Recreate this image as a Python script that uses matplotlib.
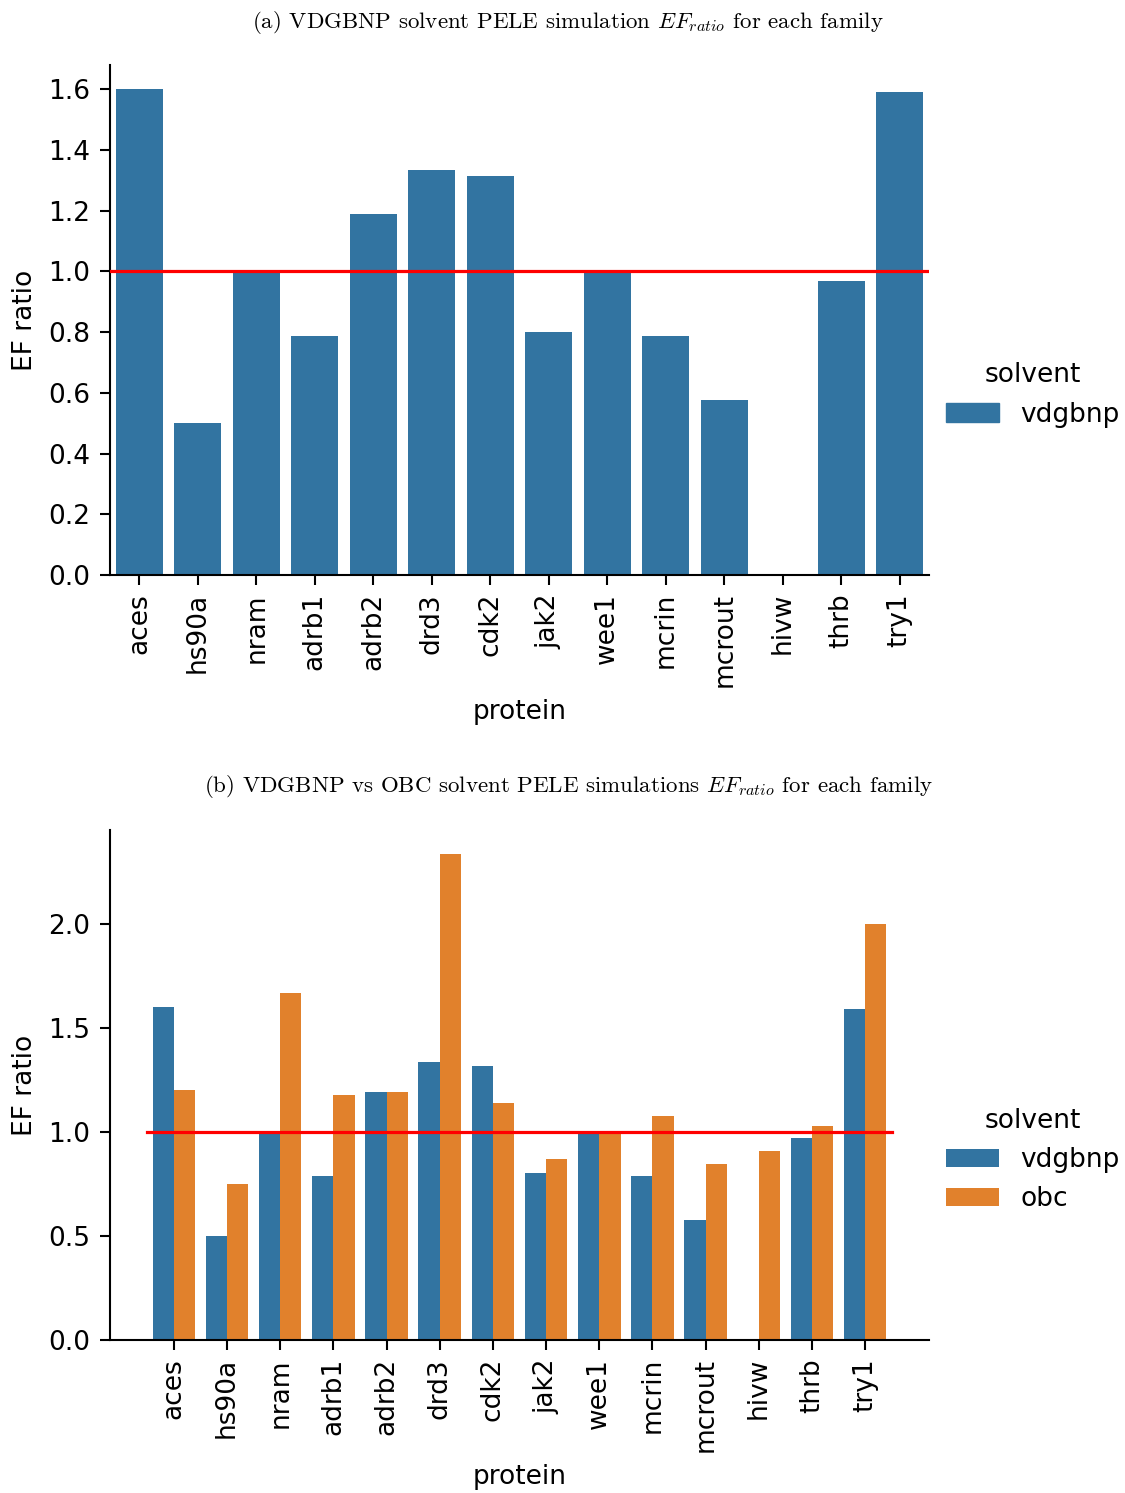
import numpy as np
import matplotlib
matplotlib.use("Agg")
import matplotlib.pyplot as plt
from matplotlib.patches import Patch

proteins = ['aces', 'hs90a', 'nram', 'adrb1', 'adrb2', 'drd3', 'cdk2',
            'jak2', 'wee1', 'mcrin', 'mcrout', 'hivw', 'thrb', 'try1']

# EF ratio per protein family for each implicit solvent
ef_vdgbnp = [1.60, 0.50, 1.00, 0.787, 1.19, 1.333, 1.316,
             0.80, 1.00, 0.787, 0.578, 0.0, 0.97, 1.59]
ef_obc = [1.20, 0.75, 1.667, 1.176, 1.19, 2.333, 1.14,
          0.867, 1.00, 1.075, 0.843, 0.906, 1.026, 2.00]

solvents = ['vdgbnp', 'obc']
colors = {'vdgbnp': '#3274a1', 'obc': '#e1812c'}

captions = [
    r'(a) VDGBNP solvent PELE simulation $EF_{ratio}$ for each family',
    r'(b) VDGBNP vs OBC solvent PELE simulations $EF_{ratio}$ for each family',
]

plt.rcParams['mathtext.fontset'] = 'cm'
plt.rcParams['axes.linewidth'] = 1.5
plt.rcParams['xtick.major.width'] = 1.5
plt.rcParams['ytick.major.width'] = 1.5
plt.rcParams['xtick.major.size'] = 7
plt.rcParams['ytick.major.size'] = 7
plt.rcParams['xtick.major.pad'] = 6
plt.rcParams['ytick.major.pad'] = 7

fs = 19
W, H = 1125, 1493
fig = plt.figure(figsize=(W / 100, H / 100), dpi=100)

def px_axes(left, top, right, bottom):
    return fig.add_axes([left / W, 1 - bottom / H, (right - left) / W, (bottom - top) / H])

x = np.arange(len(proteins))

# --- (a) vdgbnp only ---
ax1 = px_axes(110, 65, 929, 575)
ax1.bar(x, ef_vdgbnp, width=0.8, color=colors['vdgbnp'], linewidth=0)
ax1.axhline(1.0, color='red', linewidth=2.3, zorder=3)
ax1.set_xlim(-0.5, len(proteins) - 0.5)
ax1.set_ylim(0, max(ef_vdgbnp) * 1.05)
ax1.set_yticks(np.arange(0, 1.61, 0.2))
ax1.set_yticklabels([f'{v:.1f}' for v in np.arange(0, 1.61, 0.2)])
ax1.legend(handles=[Patch(color=colors['vdgbnp'], label='vdgbnp')],
           title='solvent', loc='center left', bbox_to_anchor=(933 / W, 1 - 395 / H),
           bbox_transform=fig.transFigure, frameon=False, fontsize=fs,
           title_fontsize=fs, borderpad=0)

# --- (b) vdgbnp vs obc ---
ax2 = px_axes(110, 830, 929, 1340)
for k, (s, vals) in enumerate(zip(solvents, [ef_vdgbnp, ef_obc])):
    ax2.bar(x - 0.2 + 0.4 * k, vals, width=0.4, color=colors[s], linewidth=0, label=s)
ax2.plot([-0.5, len(proteins) - 0.5], [1.0, 1.0], color='red', linewidth=2.3, zorder=3)
ax2.set_xlim(-1.2, len(proteins) + 0.2)
ax2.set_ylim(0, max(ef_obc) * 1.05)
ax2.set_yticks([0, 0.5, 1.0, 1.5, 2.0])
ax2.set_yticklabels(['0.0', '0.5', '1.0', '1.5', '2.0'])
ax2.legend(title='solvent', loc='center left', bbox_to_anchor=(933 / W, 1 - 1160 / H),
           bbox_transform=fig.transFigure, frameon=False, fontsize=fs,
           title_fontsize=fs, borderpad=0)

for ax, cap in zip([ax1, ax2], captions):
    ax.set_xticks(x)
    ax.set_xticklabels(proteins, rotation=90)
    ax.tick_params(labelsize=fs)
    ax.set_xlabel('protein', fontsize=fs)
    ax.set_ylabel('EF ratio', fontsize=fs)
    ax.yaxis.set_label_coords(-72 / 819, 0.5)
    ax.xaxis.set_label_coords(0.5, -124 / 510)
    ax.spines['top'].set_visible(False)
    ax.spines['right'].set_visible(False)

fig.text(568 / W, 1 - 22 / H, captions[0], ha='center', va='center',
         fontfamily='cmr10', fontsize=16.5)
fig.text(568 / W, 1 - 787 / H, captions[1], ha='center', va='center',
         fontfamily='cmr10', fontsize=16.5)

fig.savefig('out.png', dpi=100)
